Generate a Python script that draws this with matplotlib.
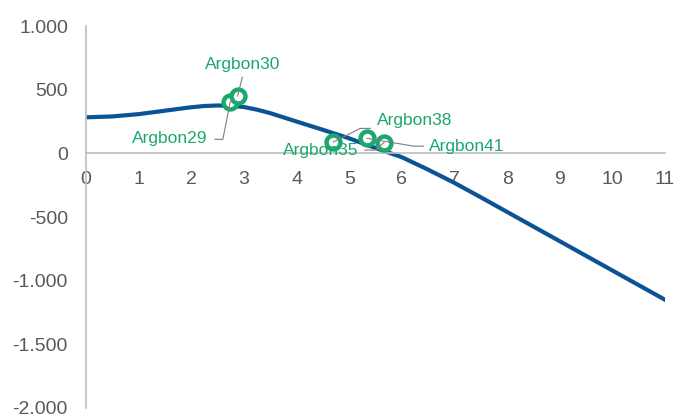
#!/usr/bin/env python3

import matplotlib
matplotlib.use("Agg")
import matplotlib.pyplot as plt
from matplotlib.ticker import FuncFormatter

curve_x = [0, 0.5, 1, 1.5, 1.75, 2, 2.25, 2.5, 2.75, 3, 3.25, 3.5, 4, 4.5,
           5, 5.5, 6, 6.5, 7, 7.5, 8, 8.5, 9, 9.5, 10, 10.5, 11]
curve_y = [283, 290, 308, 335, 349, 362, 372, 376, 373, 364, 343, 316, 250,
           185, 118, 42, -30, -128, -232, -345, -460, -575, -690, -805,
           -920, -1035, -1150]

point_names = ["Argbon29", "Argbon30", "Argbon38", "Argbon41", "Argbon35"]
point_x = [2.74, 2.88, 4.70, 5.34, 5.66]
point_y = [403, 450, 89, 118, 84]

# label anchor (data coords) and leader line path
label_pos = [(1.60, 118), (2.97, 697), (5.53, 259), (6.52, 50), (4.45, 26)]
label_ha = ["center", "center", "left", "left", "center"]
bend = [(2.60, 110), (2.97, 597), (5.21, 196), (6.22, 57), (5.49, 26)]
leader_end = [(2.45, 110), (2.97, 597), (5.40, 196), (6.41, 57), (5.30, 26)]

GREY = "#595959"
AXIS = "#bfbfbf"
BLUE = "#0b5394"
GREEN = "#1aa86d"


def thousands(v, pos):
    return "{:,.0f}".format(v).replace(",", ".")


def main():
    plt.rcParams["font.family"] = ["Liberation Sans", "DejaVu Sans"]
    fig = plt.figure(figsize=(6.9, 4.2), dpi=100)
    ax = fig.add_axes([0.1246, 0.0286, 0.8392, 0.9094])

    ax.plot(curve_x, curve_y, color=BLUE, lw=3, solid_joinstyle="round", zorder=2)

    for i in range(len(point_names)):
        px, py = point_x[i], point_y[i]
        bx, by = bend[i]
        ex, ey = leader_end[i]
        ax.plot([px, bx, ex], [py, by, ey], color="#7f7f7f", lw=0.8, zorder=4)
        ax.plot(px, py, "o", ms=10, mfc="white", mec=GREEN, mew=3.2, zorder=3)
        lx, ly = label_pos[i]
        ax.text(lx, ly, point_names[i], color=GREEN, fontsize=12.5,
                ha=label_ha[i], va="center", zorder=5)

    ax.set_xlim(0, 11)
    ax.set_ylim(-2000, 1000)
    ax.set_xticks(range(0, 12))
    ax.set_yticks([-2000, -1500, -1000, -500, 0, 500, 1000])
    ax.yaxis.set_major_formatter(FuncFormatter(thousands))

    for s in ["top", "right"]:
        ax.spines[s].set_visible(False)
    ax.spines["bottom"].set_position(("data", 0))
    ax.spines["bottom"].set_color(AXIS)
    ax.spines["left"].set_color(AXIS)
    ax.spines["bottom"].set_linewidth(1.2)
    ax.spines["left"].set_linewidth(1.2)

    ax.tick_params(axis="both", length=0, labelsize=14, colors=GREY)
    ax.tick_params(axis="y", pad=13)
    ax.tick_params(axis="x", pad=13)
    ax.patch.set_visible(False)

    fig.savefig("out.png", dpi=100)


if __name__ == "__main__":
    main()
